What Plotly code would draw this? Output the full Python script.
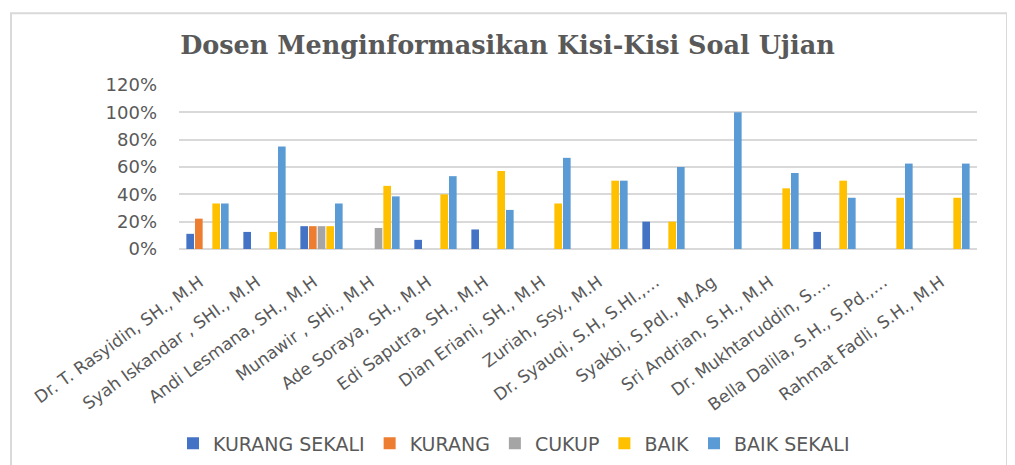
import plotly.graph_objects as go

categories = [
    "Dr. T. Rasyidin, SH., M.H",
    "Syah Iskandar , SHI., M.H",
    "Andi Lesmana, SH., M.H",
    "Munawir , SHi., M.H",
    "Ade Soraya, SH., M.H",
    "Edi Saputra, SH., M.H",
    "Dian Eriani, SH., M.H",
    "Zuriah, Ssy., M.H",
    "Dr. Syauqi, S.H, S.HI.,…",
    "Syakbi, S.PdI., M.Ag",
    "Sri Andrian, S.H., M.H",
    "Dr. Mukhtaruddin, S.…",
    "Bella Dalila, S.H., S.Pd.,…",
    "Rahmat Fadli, S.H., M.H",
]

kurang_sekali = [0.111, 0.125, 0.167, 0, 0.067, 0.143, 0, 0, 0.20, 0, 0, 0.125, 0, 0]
kurang        = [0.222, 0, 0.167, 0, 0, 0, 0, 0, 0, 0, 0, 0, 0, 0]
cukup         = [0, 0, 0.167, 0.154, 0, 0, 0, 0, 0, 0, 0, 0, 0, 0]
baik          = [0.333, 0.125, 0.167, 0.462, 0.40, 0.571, 0.333, 0.50, 0.20, 0, 0.444, 0.50, 0.375, 0.375]
baik_sekali   = [0.333, 0.75, 0.333, 0.385, 0.533, 0.286, 0.667, 0.50, 0.60, 1.0, 0.556, 0.375, 0.625, 0.625]

series = [
    ("KURANG SEKALI", kurang_sekali, "#4472C4"),
    ("KURANG", kurang, "#ED7D31"),
    ("CUKUP", cukup, "#A5A5A5"),
    ("BAIK", baik, "#FFC000"),
    ("BAIK SEKALI", baik_sekali, "#5B9BD5"),
]

# page has an 8px body margin; work in page pixels and convert
OFF = 8
W, H = 1015 - OFF, 465 - OFF
L, R, T, B = 179, 977, 85, 249.3   # plot area in page pixels

def px_x(p):
    return (p - L) / (R - L)

def px_y(p):
    return (B - p) / (B - T)

fig = go.Figure()
for name, vals, col in series:
    fig.add_trace(go.Bar(
        x=categories, y=vals, name=name,
        marker=dict(color=col, line=dict(width=0)),
    ))

fig.update_layout(
    width=W, height=H,
    margin=dict(l=L - OFF, r=W - (R - OFF), t=T - OFF, b=H - (B - OFF), autoexpand=False),
    paper_bgcolor="white", plot_bgcolor="white",
    barmode="group", bargap=0.24, bargroupgap=0.12,
    font=dict(family="DejaVu Sans", color="#595959"),
    title=dict(
        text="<b>Dosen Menginformasikan Kisi-Kisi Soal Ujian</b>",
        x=(507.5 - OFF) / W, xanchor="center", y=1 - (45 - OFF) / H, yanchor="middle",
        font=dict(family="DejaVu Serif", size=25.5, color="#595959"),
    ),
    xaxis=dict(
        tickangle=-36, tickfont=dict(size=17, color="#595959"),
        showgrid=False, showline=False, ticks="", ticklabelstandoff=19,
        ticklabelshift=-8,
    ),
    yaxis=dict(
        range=[0, 1.2], dtick=0.2, tickformat=".0%",
        tickfont=dict(size=18, color="#595959"),
        showgrid=True, gridcolor="#d9d9d9", gridwidth=1.5,
        zeroline=True, zerolinecolor="#d9d9d9", zerolinewidth=1.5,
        showline=False, ticks="", ticklabelstandoff=21,
    ),
    legend=dict(
        orientation="h", x=px_x(514), xanchor="center",
        y=px_y(444), yanchor="middle",
        font=dict(size=19, color="#595959"),
        bgcolor="rgba(0,0,0,0)",
    ),
    shapes=[dict(
        type="rect", xref="paper", yref="paper",
        x0=px_x(11), x1=px_x(1007), y0=px_y(480), y1=px_y(13),
        line=dict(color="#d9d9d9", width=2), fillcolor="rgba(0,0,0,0)",
        layer="above",
    )],
)

fig.write_html("out.html")
